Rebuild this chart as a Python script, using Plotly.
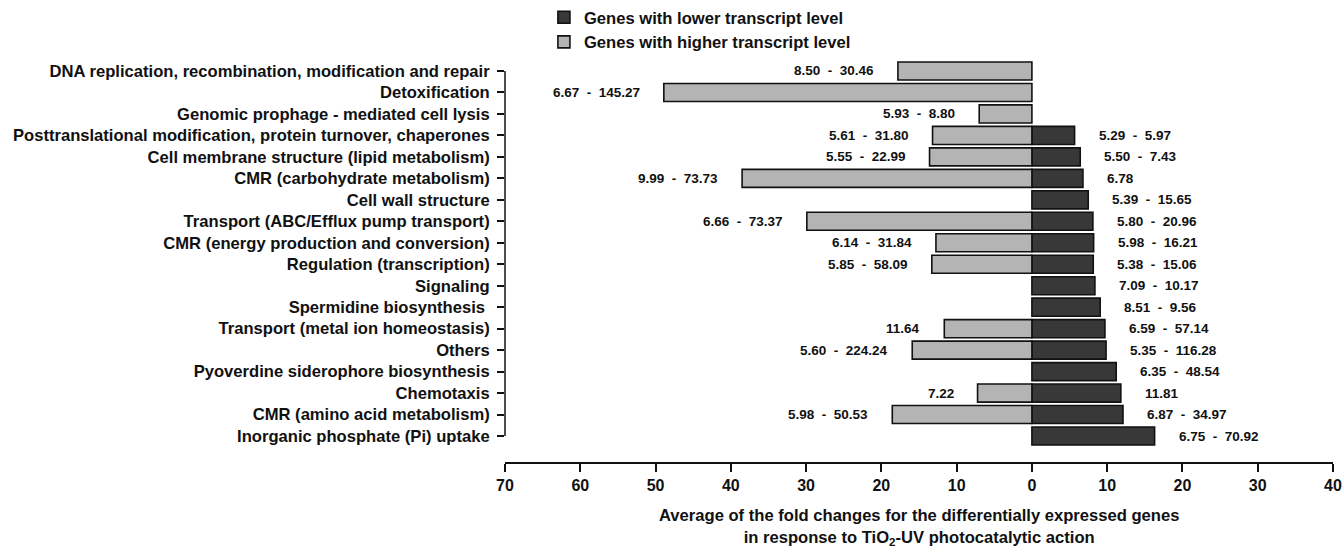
import plotly.graph_objects as go

categories = [
    "DNA replication, recombination, modification and repair",
    "Detoxification",
    "Genomic prophage - mediated cell lysis",
    "Posttranslational modification, protein turnover, chaperones",
    "Cell membrane structure (lipid metabolism)",
    "CMR (carbohydrate metabolism)",
    "Cell wall structure",
    "Transport (ABC/Efflux pump transport)",
    "CMR (energy production and conversion)",
    "Regulation (transcription)",
    "Signaling",
    "Spermidine biosynthesis\u00a0",
    "Transport (metal ion homeostasis)",
    "Others",
    "Pyoverdine siderophore biosynthesis",
    "Chemotaxis",
    "CMR (amino acid metabolism)",
    "Inorganic phosphate (Pi) uptake",
]

# average fold change, genes with higher transcript level (drawn to the left)
higher_avg = [17.8, 48.9, 7.0, 13.2, 13.6, 38.5, None, 29.9, 12.75, 13.3,
              None, None, 11.64, 15.9, None, 7.22, 18.55, None]
higher_range = ["8.50 - 30.46", "6.67 - 145.27", "5.93 - 8.80", "5.61 - 31.80",
                "5.55 - 22.99", "9.99 - 73.73", None, "6.66 - 73.37",
                "6.14 - 31.84", "5.85 - 58.09", None, None, "11.64",
                "5.60 - 224.24", None, "7.22", "5.98 - 50.53", None]

# average fold change, genes with lower transcript level (drawn to the right)
lower_avg = [None, None, None, 5.67, 6.42, 6.78, 7.48, 8.1, 8.2, 8.15,
             8.37, 9.07, 9.7, 9.85, 11.2, 11.81, 12.1, 16.3]
lower_range = [None, None, None, "5.29 - 5.97", "5.50 - 7.43", "6.78",
               "5.39 - 15.65", "5.80 - 20.96", "5.98 - 16.21", "5.38 - 15.06",
               "7.09 - 10.17", "8.51 - 9.56", "6.59 - 57.14", "5.35 - 116.28",
               "6.35 - 48.54", "11.81", "6.87 - 34.97", "6.75 - 70.92"]

tick_vals = [-70, -60, -50, -40, -30, -20, -10, 0, 10, 20, 30, 40]
tick_text = ["70", "60", "50", "40", "30", "20", "10", "0", "10", "20", "30", "40"]

FONT = "Liberation Sans, Arial, sans-serif"
DARK = "#383838"
GRAY = "#b4b4b4"

pos = list(range(len(categories)))

fig = go.Figure()
fig.add_trace(go.Bar(
    name="Genes with lower transcript level",
    orientation="h",
    y=pos,
    x=lower_avg,
    width=0.84,
    marker=dict(color=DARK, line=dict(color="#111111", width=1.6)),
    hoverinfo="skip",
))
fig.add_trace(go.Bar(
    name="Genes with higher transcript level",
    orientation="h",
    y=pos,
    x=[-v if v is not None else None for v in higher_avg],
    width=0.84,
    marker=dict(color=GRAY, line=dict(color="#111111", width=1.6)),
    hoverinfo="skip",
))

def fmt(s):
    return s.replace(" - ", "\u00a0\u00a0-\u00a0\u00a0")

annotations = []
for i in pos:
    if higher_avg[i] is not None:
        annotations.append(dict(
            x=-higher_avg[i], y=i, xref="x", yref="y", text=fmt(higher_range[i]),
            showarrow=False, xanchor="right", yanchor="middle", xshift=-22,
            font=dict(family=FONT, size=13.5, color="#111111", weight="bold"),
        ))
    if lower_avg[i] is not None:
        annotations.append(dict(
            x=lower_avg[i], y=i, xref="x", yref="y", text=fmt(lower_range[i]),
            showarrow=False, xanchor="left", yanchor="middle", xshift=22,
            font=dict(family=FONT, size=13.5, color="#111111", weight="bold"),
        ))

annotations.append(dict(
    x=0.5, y=-0.105, xref="paper", yref="paper",
    text="Average of the fold changes for the differentially expressed genes<br>"
         "in response to TiO<sub>2</sub>-UV photocatalytic action",
    showarrow=False, xanchor="center", yanchor="top",
    font=dict(family=FONT, size=16.6, color="#111111", weight="bold"),
))

fig.update_layout(
    width=1343, height=547,
    margin=dict(l=505, r=10, t=60, b=85, autoexpand=False),
    paper_bgcolor="white", plot_bgcolor="white",
    barmode="overlay",
    showlegend=True,
    legend=dict(
        x=0.405, y=1.008, xref="container", yref="container",
        xanchor="left", yanchor="top",
        font=dict(family=FONT, size=16.6, color="#111111", weight="bold"),
        tracegroupgap=0, itemclick=False, bgcolor="rgba(0,0,0,0)",
    ),
    annotations=annotations,
    xaxis=dict(
        range=[-70, 40], tickvals=tick_vals, ticktext=tick_text,
        showgrid=False, zeroline=False, showline=True, linecolor="#111111",
        linewidth=1.5, ticks="outside", ticklen=8, tickwidth=1.5, tickcolor="#111111",
        tickfont=dict(family=FONT, size=16, color="#111111", weight="bold"),
        fixedrange=True, automargin=False,
    ),
    yaxis=dict(
        range=[18.21, -0.512], tickvals=pos, ticktext=categories,
        showgrid=False, zeroline=False, showline=False,
        ticks="outside", ticklen=7, tickwidth=1.5, tickcolor="#111111",
        ticklabelstandoff=4,
        tickfont=dict(family=FONT, size=16.6, color="#111111", weight="bold"),
        fixedrange=True, automargin=False,
    ),
    shapes=[dict(type="line", xref="paper", yref="y", x0=0, x1=0, y0=0, y1=len(categories) - 1,
                 line=dict(color="#111111", width=1.5))],
)

fig.write_html(
    "out.html",
    config={"displayModeBar": False},
    post_script="document.body.style.margin='0';document.body.style.overflow='hidden';",
)
